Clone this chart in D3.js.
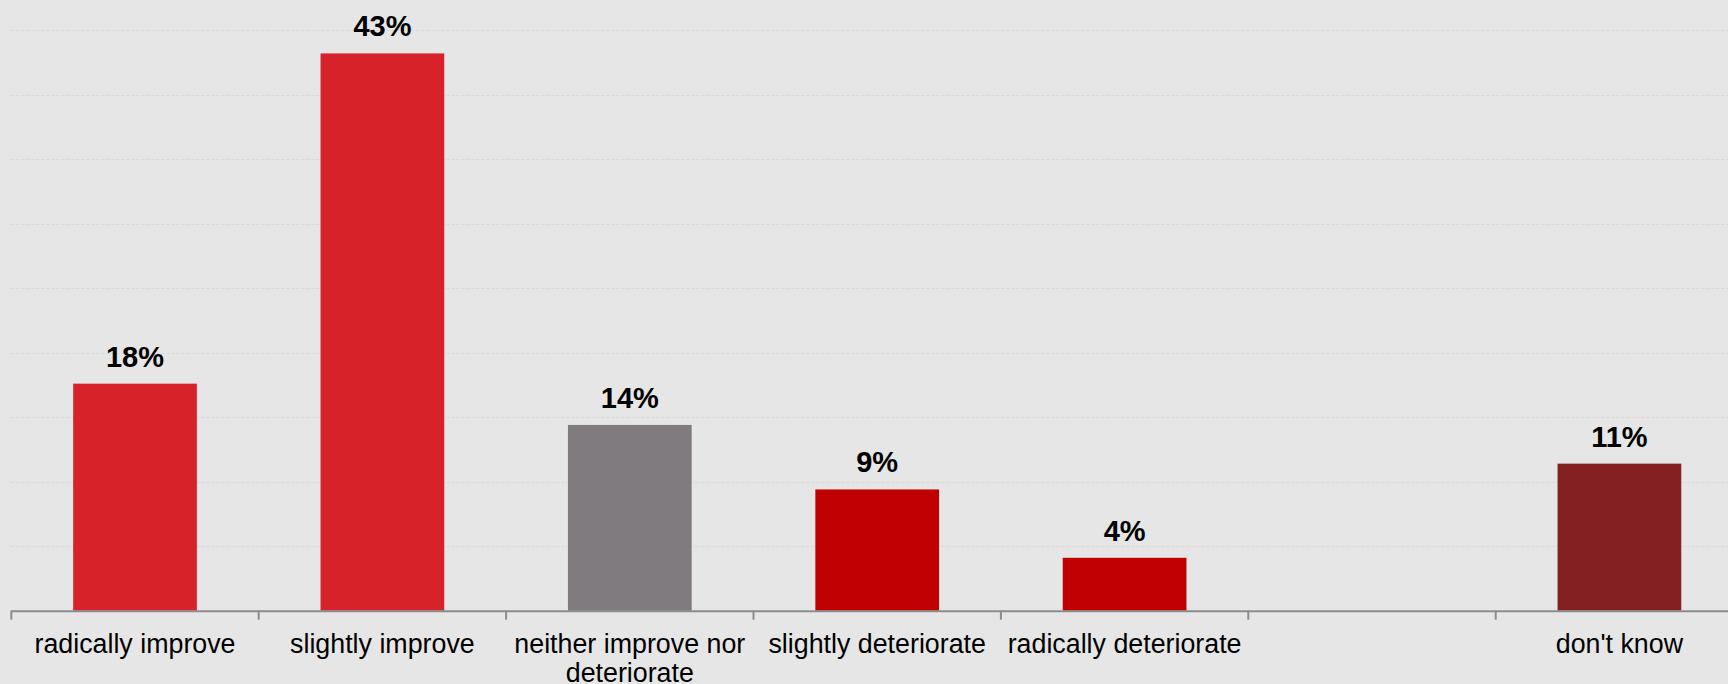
<!DOCTYPE html>
<html>
<head>
<meta charset="utf-8">
<script src="https://cdn.jsdelivr.net/npm/d3@7"></script>
<style>
html, body { margin: 0; padding: 0; background: #e6e6e6; overflow: hidden; }
svg { display: block; }
</style>
</head>
<body>
<script>
const categories = ["radically improve", "slightly improve", "neither improve nor deteriorate", "slightly deteriorate", "radically deteriorate", "", "don't know"];
const values = [17.6, 43.2, 14.4, 9.4, 4.1, null, 11.4];
const barColors = ["#d7222a", "#d7222a", "#807b7e", "#c00000", "#c00000", null, "#832022"];
const gridTicks = [5, 10, 15, 20, 25, 30, 35, 40, 45];

const W = 1728, H = 684;
const svg = d3.select("body").append("svg").attr("width", W).attr("height", H);
svg.append("rect").attr("width", W).attr("height", H).attr("fill", "#e6e6e6");

const x0 = 11.3, step = 247.4;
const x = d3.scaleBand().domain(d3.range(categories.length)).range([x0, x0 + step * categories.length]).padding(0);
const y = d3.scaleLinear().domain([0, 45]).range([610.7, 30.2]);

// gridlines
svg.append("g").selectAll("line").data(gridTicks).join("line")
  .attr("x1", x0).attr("x2", W)
  .attr("y1", d => Math.round(y(d)) + 0.5).attr("y2", d => Math.round(y(d)) + 0.5)
  .attr("stroke", "#d9d9d9").attr("stroke-width", 1).attr("stroke-dasharray", "3,2");

const data = categories.map((c, i) => ({ i, c, v: values[i], col: barColors[i] })).filter(d => d.v != null);
const bw = x.bandwidth() * 0.5;

svg.append("g").selectAll("rect").data(data).join("rect")
  .attr("x", d => x(d.i) + (x.bandwidth() - bw) / 2)
  .attr("width", bw)
  .attr("y", d => y(d.v))
  .attr("height", d => y(0) - y(d.v))
  .attr("fill", d => d.col);

const fmt = d3.format(".0f");
svg.append("g").selectAll("text").data(data).join("text")
  .attr("x", d => x(d.i) + x.bandwidth() / 2)
  .attr("y", d => y(d.v) - 17)
  .attr("text-anchor", "middle")
  .attr("font-family", "Liberation Sans, Arial, sans-serif")
  .attr("font-weight", "bold")
  .attr("font-size", 29)
  .attr("fill", "#000")
  .text(d => fmt(d.v) + "%");

// axis
const axisG = svg.append("g");
axisG.append("line").attr("x1", x0).attr("x2", W).attr("y1", y(0) + 0.5).attr("y2", y(0) + 0.5)
  .attr("stroke", "#8c8c8c").attr("stroke-width", 2);
const tickPos = d3.range(categories.length + 1).map(i => x0 + i * step);
axisG.selectAll("line.tick").data(tickPos).join("line").attr("class", "tick")
  .attr("x1", d => d).attr("x2", d => d).attr("y1", y(0)).attr("y2", y(0) + 9)
  .attr("stroke", "#8c8c8c").attr("stroke-width", 2);

// category labels with wrapping
const maxW = step - 6;
const labels = axisG.selectAll("text.cat").data(categories.map((c, i) => ({ c, i }))).join("text")
  .attr("class", "cat")
  .attr("x", d => x(d.i) + x.bandwidth() / 2)
  .attr("y", 653)
  .attr("text-anchor", "middle")
  .attr("font-family", "Liberation Sans, Arial, sans-serif")
  .attr("font-size", 26.8)
  .attr("fill", "#000");
labels.each(function(d) {
  const t = d3.select(this);
  const words = d.c.split(" ").filter(w => w.length);
  let line = [], lines = [];
  const tmp = t.append("tspan");
  words.forEach(w => {
    line.push(w);
    tmp.text(line.join(" "));
    if (tmp.node().getComputedTextLength() > maxW && line.length > 1) {
      line.pop();
      lines.push(line.join(" "));
      line = [w];
    }
  });
  if (line.length) lines.push(line.join(" "));
  tmp.remove();
  lines.forEach((l, k) => {
    t.append("tspan").attr("x", x(d.i) + x.bandwidth() / 2).attr("dy", k === 0 ? 0 : 29).text(l);
  });
});
</script>
</body>
</html>
